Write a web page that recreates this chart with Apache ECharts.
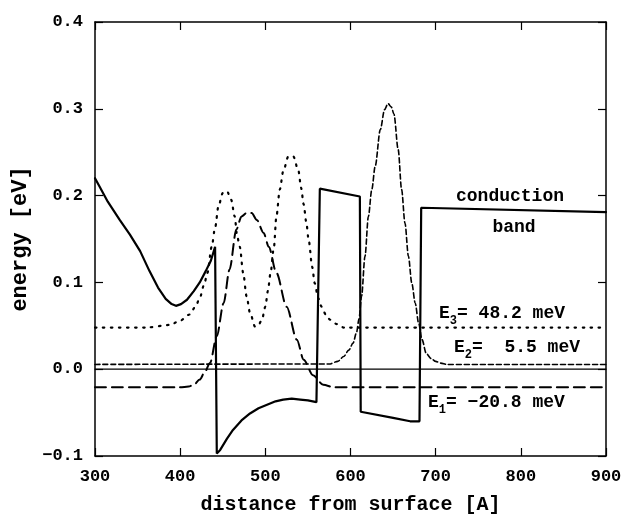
<!DOCTYPE html>
<html><head><meta charset="utf-8">
<script src="https://cdn.jsdelivr.net/npm/echarts@6/dist/echarts.min.js"></script>
<style>html,body{margin:0;padding:0;background:#fff}#c{width:623px;height:514px}</style>
</head><body><div id="c"></div>
<script>
// Conduction band edge
const bandX = [300,305,315,329,341,353,364,374,383,390,395,401,408,416,423,430,436,441,443,443,447,455,462,472,482,492,502,512,521,531,541,550,560,562,564,566,611,612,613,650,670,681,683,685,900];
const bandY = [0.220,0.211,0.193,0.172,0.155,0.136,0.113,0.094,0.081,0.075,0.073,0.075,0.080,0.090,0.100,0.113,0.125,0.141,0.142,-0.097,-0.093,-0.080,-0.070,-0.059,-0.051,-0.045,-0.041,-0.037,-0.035,-0.034,-0.035,-0.036,-0.038,-0.038,0.208,0.208,0.199,-0.049,-0.049,-0.056,-0.060,-0.060,0.186,0.186,0.181];
// E1 state (level -20.8 meV) + wavefunction
const e1X = [300,400,410,416,423,429,435,443,451,458,466,472,478,484,490,498,504,513,525,537,545,556,568,580,900];
const e1Y = [-0.0208,-0.0208,-0.020,-0.018,-0.012,-0.003,0.007,0.038,0.076,0.115,0.161,0.176,0.180,0.180,0.172,0.157,0.141,0.111,0.072,0.034,0.011,-0.007,-0.018,-0.0208,-0.0208];
// E2 state (level 5.5 meV) + wavefunction
const e2X = [300,575,585,592,598,603,607,610,613,617,621,625,629,635,640,644,648,651,656,660,664,668,672,676,680,684,689,695,700,706,713,900];
const e2Y = [0.0055,0.006,0.009,0.0146,0.022,0.030,0.042,0.058,0.084,0.130,0.176,0.207,0.234,0.276,0.299,0.306,0.302,0.294,0.253,0.207,0.168,0.130,0.099,0.076,0.053,0.034,0.018,0.012,0.009,0.007,0.0055,0.0055];
// E3 state (level 48.2 meV) + wavefunction
const e3X = [300,360,388,400,411,418,423,428,432,437,441,445,450,455,460,464,467,470,474,478,482,488,492,496,500,503,506,510,513,517,521,527,533,539,542,545,548,551,555,558,562,566,571,576,584,592,900];
const e3Y = [0.048,0.048,0.051,0.056,0.063,0.072,0.082,0.097,0.111,0.141,0.163,0.188,0.203,0.205,0.195,0.176,0.153,0.141,0.111,0.084,0.065,0.049,0.051,0.057,0.072,0.090,0.110,0.140,0.176,0.207,0.228,0.245,0.245,0.228,0.209,0.190,0.170,0.148,0.118,0.099,0.082,0.072,0.063,0.057,0.052,0.048,0.048];
// zero line
const zeroX = [300,900];
const zeroY = [0,0];
const xTicks = {min:300,max:900,step:100};
const yTicks = {min:-0.1,max:0.4,step:0.1};

const pairs = (xs,ys)=>xs.map((x,i)=>[x,ys[i]]);
const FONT = 'Liberation Mono';
const chart = echarts.init(document.getElementById('c'));
const axisCommon = {
  axisLine:{show:true,onZero:false,lineStyle:{color:'#000',width:1.5}},
  axisTick:{show:true,inside:true,length:8,lineStyle:{color:'#000',width:1.2}},
  splitLine:{show:false}
};
const lineSeries = (name,xs,ys,type,width,smooth)=>({
  name,type:'line',data:pairs(xs,ys),showSymbol:false,symbol:'none',smooth:smooth||false,
  smoothMonotone: smooth ? 'x' : undefined,
  lineStyle:{color:'#000',width,type,cap:'round'},z:2,animation:false
});
const richE = {
  n:{fontFamily:FONT,fontWeight:'bold',fontSize:18,lineHeight:20,verticalAlign:'top',fill:'#000'},
  s:{fontFamily:FONT,fontWeight:'bold',fontSize:12,lineHeight:23,verticalAlign:'bottom',fill:'#000'}
};
chart.setOption({
  backgroundColor:'#fff',
  animation:false,
  grid:{left:95,right:17,top:22,bottom:58,containLabel:false,outerBoundsMode:'none'},
  xAxis:[
    Object.assign({type:'value',min:xTicks.min,max:xTicks.max,interval:xTicks.step,position:'bottom',
      name:'distance from surface [A]',nameLocation:'middle',nameGap:39,
      nameTextStyle:{fontFamily:FONT,fontWeight:'bold',fontSize:20,color:'#000'},
      axisLabel:{fontFamily:FONT,fontWeight:'bold',fontSize:17,color:'#000',margin:12}},axisCommon),
    Object.assign({type:'value',min:xTicks.min,max:xTicks.max,interval:xTicks.step,position:'top',axisLabel:{show:false}},axisCommon)
  ],
  yAxis:[
    Object.assign({type:'value',min:yTicks.min,max:yTicks.max,interval:yTicks.step,position:'left',
      name:'energy [eV]',nameLocation:'middle',nameGap:63,nameRotate:90,
      nameTextStyle:{fontFamily:FONT,fontWeight:'bold',fontSize:22,color:'#000'},
      axisLabel:{fontFamily:FONT,fontWeight:'bold',fontSize:17,color:'#000',margin:12,
        formatter:v=>v.toFixed(1).replace('-','\u2212')}},axisCommon),
    Object.assign({type:'value',min:yTicks.min,max:yTicks.max,interval:yTicks.step,position:'right',axisLabel:{show:false}},axisCommon)
  ],
  series:[
    lineSeries('zero',zeroX,zeroY,'solid',1.2),
    lineSeries('band',bandX,bandY,'solid',2.2),
    lineSeries('E1',e1X,e1Y,[11,6],2,0.3),
    lineSeries('E2',e2X,e2Y,[5,3],1.6,0.3),
    lineSeries('E3',e3X,e3Y,[1.5,6.5],2.2,0.3)
  ],
  graphic:[
    {type:'text',x:510,y:196,style:{text:'conduction',fontFamily:FONT,fontWeight:'bold',fontSize:18,fill:'#000',align:'center',verticalAlign:'middle'}},
    {type:'text',x:514,y:227,style:{text:'band',fontFamily:FONT,fontWeight:'bold',fontSize:18,fill:'#000',align:'center',verticalAlign:'middle'}},
    {type:'text',x:439,y:304,style:{text:'{n|E}{s|3}{n|= 48.2 meV}',rich:richE,fill:'#000'}},
    {type:'text',x:454,y:338,style:{text:'{n|E}{s|2}{n|=  5.5 meV}',rich:richE,fill:'#000'}},
    {type:'text',x:428,y:393,style:{text:'{n|E}{s|1}{n|= \u221220.8 meV}',rich:richE,fill:'#000'}}
  ]
});
</script></body></html>
